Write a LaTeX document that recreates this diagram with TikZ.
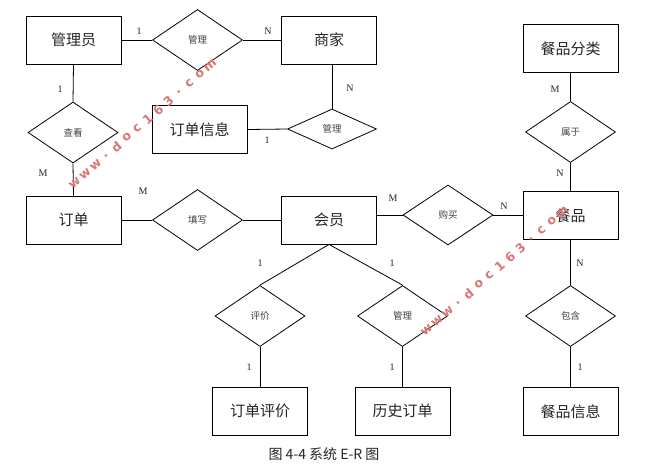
\documentclass[tikz,border=0pt]{standalone}
\usepackage{fontspec}
\setmainfont{Liberation Serif}
\newfontfamily\cjk{Noto Sans CJK SC}
\newfontfamily\wmfont{DejaVu Sans}
\usetikzlibrary{shapes.geometric}
\definecolor{wmred}{RGB}{218,118,118}
\begin{document}
\begin{tikzpicture}[x=1pt,y=-1pt,
  entity/.style={draw, line width=0.8pt, minimum width=95pt, minimum height=48pt, inner sep=0pt, font=\cjk\fontsize{15}{15}\selectfont, text=black!85},
  rel/.style={draw, diamond, line width=0.8pt, minimum width=90pt, minimum height=61pt, inner sep=0pt, font=\cjk\fontsize{9.5}{10}\selectfont, text=black!75},
  card/.style={font=\fontsize{10}{10}\selectfont, inner sep=0pt, text=black!85},
  conn/.style={line width=0.8pt},
  wm/.style={font=\wmfont\bfseries\fontsize{12.5}{12.5}\selectfont, text=wmred, rotate=41, inner sep=0pt}
]
\useasboundingbox (0,0) rectangle (661,467);
\fill[white] (0,0) rectangle (661,467);

% entities
\node[entity] (admin) at (73.5,40) {管理员};
\node[entity] (shop) at (329,40) {商家};
\node[entity] (orderinfo) at (199.5,129.5) {订单信息};
\node[entity] (order) at (73.5,220) {订单};
\node[entity] (member) at (329,220) {会员};
\node[entity] (food) at (570.5,215.5) {餐品};
\node[entity] (foodcat) at (570.5,48.5) {餐品分类};
\node[entity] (review) at (260,411) {订单评价};
\node[entity] (history) at (402.5,411) {历史订单};
\node[entity] (foodinfo) at (570.5,411.5) {餐品信息};

% relationships
\node[rel] (mg1) at (197.5,40) {管理};
\node[rel, minimum width=89pt, minimum height=40pt] (mg2) at (332,129) {管理};
\node[rel] (view) at (73,132.5) {查看};
\node[rel] (fill) at (197.5,220) {填写};
\node[rel, minimum height=60pt] (buy) at (448,215) {购买};
\node[rel] (belong) at (570.5,132) {属于};
\node[rel] (eval) at (260,316) {评价};
\node[rel] (mg3) at (402.5,316) {管理};
\node[rel] (contain) at (570.5,316) {包含};

% connectors
\draw[conn] (admin.east) -- (mg1.west);
\draw[conn] (mg1.east) -- (shop.west);
\draw[conn] (admin.south) -- (view.north);
\draw[conn] (view.south) -- (order.north);
\draw[conn] (mg2.north) -- (mg2.north |- shop.south);
\draw[conn] (orderinfo.east) -- (mg2.west);
\draw[conn] (order.east) -- (fill.west);
\draw[conn] (fill.east) -- (member.west);
\draw[conn] (buy.west -| member.east) -- (buy.west);
\draw[conn] (buy.east) -- (buy.east -| food.west);
\draw[conn] (foodcat.south) -- (belong.north);
\draw[conn] (belong.south) -- (food.north);
\draw[conn] (member.south) -- (eval.north);
\draw[conn] (member.south) -- (mg3.north);
\draw[conn] (eval.south) -- (review.north);
\draw[conn] (mg3.south) -- (history.north);
\draw[conn] (food.south) -- (contain.north);
\draw[conn] (contain.south) -- (foodinfo.north);

% cardinalities
\node[card] (c1) at (139,31) {1};
\node[card] (c2) at (268,31) {N};
\node[card] (c3) at (60,89) {1};
\node[card] (c4) at (43,173) {M};
\node[card] (c5) at (143,191) {M};
\node[card] (c6) at (267,140) {1};
\node[card] (c7) at (350,88) {N};
\node[card] (c8) at (555,89) {M};
\node[card] (c9) at (560,173) {N};
\node[card] (c10) at (393,198) {M};
\node[card] (c11) at (504,206) {N};
\node[card] (c12) at (260,263) {1};
\node[card] (c13) at (249,367) {1};
\node[card] (c14) at (392,263) {1};
\node[card] (c15) at (392,367) {1};
\node[card] (c16) at (580,263) {N};
\node[card] (c17) at (580,367) {1};

% caption
\node[font=\cjk\fontsize{14}{14}\selectfont, text=black!85, inner sep=0pt] (cap) at (324,454) {图 4-4 系统 E-R 图};

% watermarks (one letter per node, along a 41 degree line)
\foreach \ch [count=\i] in {w,w,w,.,d,o,c,1,6,3,.,c,o,m} {
  \node[wm] (wma\i) at ({142.5+(\i-7.5)*13.8*cos(41)},{124-(\i-7.5)*13.8*sin(41)}) {\ch};
  \node[wm] (wmb\i) at ({494.5+(\i-7.5)*13.8*cos(41)},{271-(\i-7.5)*13.8*sin(41)}) {\ch};
}
\end{tikzpicture}
\end{document}
